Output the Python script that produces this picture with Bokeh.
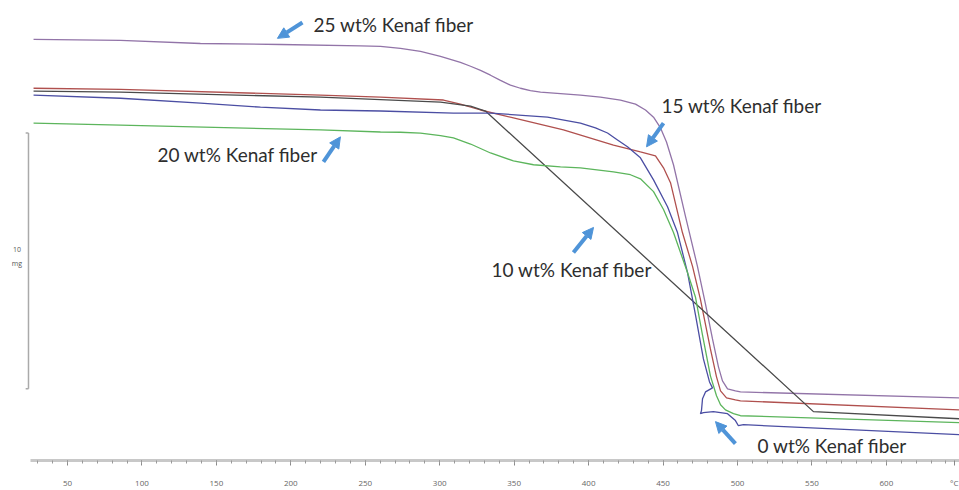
from bokeh.plotting import figure
from bokeh.models import Range1d, FixedTicker, Arrow, NormalHead
from bokeh.core.properties import value
from bokeh.embed import file_html
from bokeh.resources import INLINE

# ---- data (temperature in °C, mass in mg above baseline) ----
t25 = [27.2, 85.6, 139.3, 193.1, 246.8, 260.2, 273.6, 287.1, 300.5, 313.9, 320.7, 327.4, 334.1,
       340.8, 347.5, 354.2, 360.9, 367.7, 381.1, 394.5, 407.9, 421.4, 431.5, 438.2, 443.6, 448.3,
       452.3, 457.0, 465.1, 473.1, 478.5, 483.2, 487.2, 489.9, 493.3, 498.6, 502.0, 649.1]
m25 = [16.46, 16.42, 16.30, 16.26, 16.21, 16.19, 16.11, 15.99, 15.80, 15.56, 15.41, 15.25, 15.06,
       14.86, 14.67, 14.55, 14.46, 14.40, 14.34, 14.28, 14.20, 14.09, 13.93, 13.70, 13.42, 13.00,
       12.45, 11.56, 9.53, 7.59, 6.11, 4.75, 3.66, 3.11, 2.80, 2.72, 2.68, 2.45]

t15 = [27.2, 85.6, 219.9, 260.2, 302.5, 313.9, 327.4, 349.5, 383.1, 416.7, 434.8, 444.9, 450.3,
       455.0, 463.0, 469.8, 475.1, 481.8, 485.9, 488.6, 492.6, 498.6, 502.0, 649.1]
m15 = [14.55, 14.51, 14.28, 14.20, 14.09, 13.93, 13.70, 13.39, 12.92, 12.33, 12.06, 11.91, 11.44,
       10.86, 8.91, 7.59, 6.30, 4.36, 3.27, 2.72, 2.45, 2.37, 2.33, 1.98]

t10 = [27.2, 85.6, 219.9, 300.5, 320.7, 330.7, 551.0, 649.1]
m10 = [14.44, 14.40, 14.20, 14.01, 13.85, 13.66, 1.91, 1.63]

t0 = [27.2, 85.6, 139.3, 179.6, 219.9, 260.2, 309.2, 334.1, 372.4, 394.5, 404.6, 412.7, 419.4,
      426.1, 434.8, 443.6, 453.0, 459.7, 466.4, 471.8, 477.1, 481.2, 483.2, 478.5, 476.5, 475.8,
      475.1, 477.1, 483.8, 493.3, 498.6, 500.6, 504.0, 649.1]
m0 = [14.28, 14.16, 13.97, 13.81, 13.70, 13.66, 13.58, 13.58, 13.42, 13.19, 13.00, 12.80, 12.53,
      12.26, 11.83, 10.97, 9.92, 8.91, 7.35, 5.68, 3.97, 3.07, 2.84, 2.68, 2.41, 1.95,
      1.83, 1.87, 1.91, 1.83, 1.56, 1.36, 1.40, 1.01]

t20 = [27.2, 85.6, 219.9, 260.2, 273.6, 287.1, 300.5, 309.2, 320.7, 334.1, 349.5, 363.0, 381.1,
       394.5, 416.7, 428.1, 434.8, 443.6, 450.3, 457.0, 466.4, 471.8, 476.5, 481.8, 485.9, 488.6,
       491.9, 497.3, 502.0, 649.1]
m20 = [13.19, 13.11, 12.92, 12.84, 12.83, 12.80, 12.70, 12.61, 12.37, 12.02, 11.71, 11.56, 11.48,
       11.44, 11.28, 11.17, 11.01, 10.51, 9.81, 8.91, 7.35, 6.38, 4.90, 3.31, 2.53, 2.18,
       1.98, 1.83, 1.75, 1.48]

series_t = [t25, t15, t10, t0, t20]
series_m = [m25, m15, m10, m0, m20]
series_colors = ["#9274a8", "#b0504e", "#4a4a4a", "#4b4ea3", "#5cb55c"]

labels = ["25 wt% Kenaf fiber", "15 wt% Kenaf fiber", "20 wt% Kenaf fiber",
          "10 wt% Kenaf fiber", "0 wt% Kenaf fiber"]
label_t = [215.2, 448.9, 110.4, 334.8, 513.4]
label_m = [17.04, 13.89, 11.95, 7.47, 0.58]

# arrows: tail (t, m) -> head (t, m)
arrow_t0 = [207.8, 450.3, 221.9, 389.8, 498.6]
arrow_m0 = [17.12, 13.19, 11.67, 8.13, 0.66]
arrow_t1 = [191.0, 438.9, 233.3, 403.3, 485.2]
arrow_m1 = [16.50, 12.26, 12.65, 9.11, 1.52]

major_ticks = [50, 100, 150, 200, 250, 300, 350, 400, 450, 500, 550, 600, 645.6]
minor_ticks = list(range(30, 650, 10))
tick_overrides = {645.6: "°C"}

scale_base = 2.80   # mg
scale_len = 10.0    # mg
scale_t = 23.8

p = figure(width=959, height=490, x_range=Range1d(5.0, 649.1), y_range=Range1d(0, 17.98),
           min_border_left=0, min_border_right=0, min_border_top=0, min_border_bottom=28,
           y_axis_location=None, toolbar_location=None, output_backend="svg")
p.outline_line_color = None
p.xgrid.visible = False
p.ygrid.visible = False
p.background_fill_color = "white"

for t, m, c in zip(series_t, series_m, series_colors):
    p.line(t, m, line_color=c, line_width=1.3)

# scale bar
p.segment(x0=[scale_t, scale_t - 1.9, scale_t - 1.9], y0=[scale_base, scale_base, scale_base + scale_len],
          x1=[scale_t, scale_t, scale_t], y1=[scale_base + scale_len, scale_base, scale_base + scale_len],
          line_color="#aaaaaa", line_width=1.5)
p.text(x=[16.0, 16.0], y=[8.25, 7.70], text=["10", "mg"], text_font=value("Open Sans"),
       text_font_size="7px", text_color="#555555", text_align="center", text_baseline="middle")

# annotation texts
p.text(x=label_t, y=label_m, text=labels, text_font=value("Lato"), text_font_size="19px",
       text_color="#2e2e2e", text_align="left", text_baseline="middle")

for xa, ya, xb, yb in zip(arrow_t0, arrow_m0, arrow_t1, arrow_m1):
    p.add_layout(Arrow(end=NormalHead(size=11, fill_color="#4f94d8", line_color="#4f94d8"),
                       x_start=xa, y_start=ya, x_end=xb, y_end=yb,
                       line_color="#4f94d8", line_width=4))

ax = p.xaxis[0]
ax.ticker = FixedTicker(ticks=major_ticks, minor_ticks=minor_ticks)
ax.major_label_overrides = tick_overrides
ax.bounds = (25, 649)
ax.axis_line_color = "#c8c8c8"
ax.axis_line_width = 3
ax.major_tick_line_color = "#888888"
ax.minor_tick_line_color = "#999999"
ax.major_tick_in = 0
ax.major_tick_out = 5
ax.minor_tick_in = 0
ax.minor_tick_out = 3
ax.major_label_text_font = "Open Sans"
ax.major_label_text_font_size = "8px"
ax.major_label_text_color = "#666666"
ax.major_label_standoff = 11

open("out.html", "w").write(file_html(p, INLINE))
